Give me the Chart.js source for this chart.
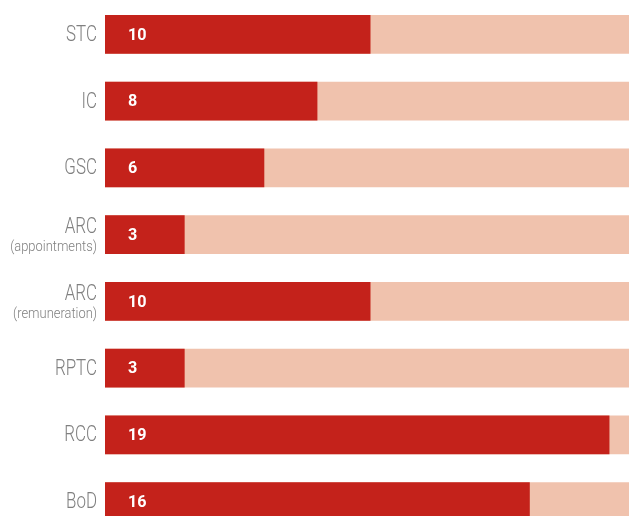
<!DOCTYPE html>
<html>
<head>
<meta charset="utf-8">
<script src="https://cdn.jsdelivr.net/npm/chart.js@4/dist/chart.umd.min.js"></script>
<style>
    html, body { margin: 0; padding: 0; background: #fff; overflow: hidden; }
    #wrap { position: relative; width: 636px; height: 535px; }
</style>
</head>
<body>
<div id="wrap"><canvas id="committeeChart"></canvas></div>
<script>
    const committees = ["STC", "IC", "GSC", "ARC", "ARC", "RPTC", "RCC", "BoD"];
    const subtitles = ["", "", "", "(appointments)", "(remuneration)", "", "", ""];
    const meetings = [10, 8, 6, 3, 10, 3, 19, 16];
    const totals = [20, 20, 20, 20, 20, 20, 20, 20];

    const palette = {
        red: "#c4221b",
        pink: "#f0c2ad",
        label: "#808080",
        white: "#ffffff"
    };

    // squeeze a normal-width font into a condensed look
    function condensedText(ctx, text, x, y, squeeze) {
        ctx.save();
        ctx.translate(x, y);
        ctx.scale(squeeze, 1);
        ctx.fillText(text, 0, 0);
        ctx.restore();
    }

    // committee names (with optional second line) drawn left of the axis
    const categoryLabels = {
        id: "categoryLabels",
        afterDraw(chart) {
            const ctx = chart.ctx;
            const y = chart.scales.y;
            const right = chart.chartArea.left - 8;
            ctx.save();
            ctx.fillStyle = palette.label;
            ctx.textAlign = "right";
            ctx.textBaseline = "middle";
            committees.forEach((name, i) => {
                const cy = y.getPixelForValue(i);
                ctx.font = "300 22px Roboto, sans-serif";
                if (subtitles[i]) {
                    condensedText(ctx, name, right, cy - 7, 0.77);
                    ctx.font = "300 15px Roboto, sans-serif";
                    condensedText(ctx, subtitles[i], right, cy + 13, 0.86);
                } else {
                    condensedText(ctx, name, right, cy + 1, 0.77);
                }
            });
            ctx.restore();
        }
    };

    // white counts inside the red bars
    const valueLabels = {
        id: "valueLabels",
        afterDatasetsDraw(chart) {
            const ctx = chart.ctx;
            const meta = chart.getDatasetMeta(0);
            ctx.save();
            ctx.fillStyle = palette.white;
            ctx.font = "bold 17px Roboto, sans-serif";
            ctx.textAlign = "left";
            ctx.textBaseline = "middle";
            meta.data.forEach((bar, i) => {
                condensedText(ctx, String(meetings[i]), bar.base + 23, bar.y + 1, 0.95);
            });
            ctx.restore();
        }
    };

    new Chart(document.getElementById("committeeChart"), {
        type: "bar",
        data: {
            labels: committees,
            datasets: [
                {
                    data: meetings,
                    backgroundColor: palette.red,
                    borderWidth: 0,
                    grouped: false,
                    barPercentage: 0.58,
                    categoryPercentage: 1
                },
                {
                    data: totals,
                    backgroundColor: palette.pink,
                    borderWidth: 0,
                    grouped: false,
                    barPercentage: 0.58,
                    categoryPercentage: 1
                }
            ]
        },
        options: {
            indexAxis: "y",
            responsive: true,
            maintainAspectRatio: false,
            animation: false,
            layout: { padding: { top: 1, right: 0, bottom: 0, left: 0 } },
            plugins: {
                legend: { display: false },
                tooltip: { enabled: false }
            },
            scales: {
                x: {
                    display: false,
                    min: 0,
                    max: 20
                },
                y: {
                    grid: { display: false, drawTicks: false },
                    border: { display: false },
                    ticks: { display: false },
                    afterFit(scale) { scale.width = 105; }
                }
            }
        },
        plugins: [categoryLabels, valueLabels]
    });
</script>
</body>
</html>
